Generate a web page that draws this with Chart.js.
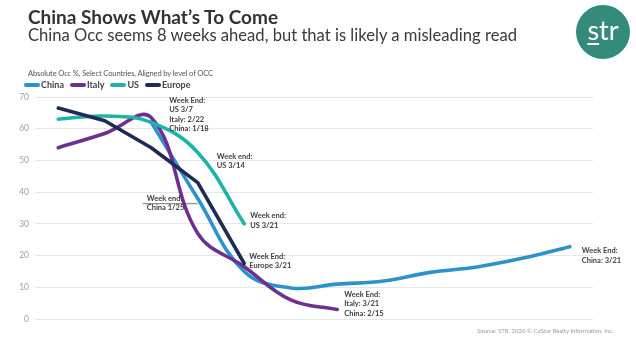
<!DOCTYPE html>
<html>
<head>
<meta charset="utf-8">
<script src="https://cdn.jsdelivr.net/npm/chart.js@4/dist/chart.umd.min.js"></script>
<style>
  body { margin: 0; width: 636px; height: 344px; overflow: hidden; background: #fff; position: relative; font-family: Lato, "Open Sans", sans-serif; }
  #occChart { position: absolute; left: 0; top: 0; }
  .head { position: absolute; left: 28px; color: #333; white-space: nowrap; }
  #title { top: 5px; font-size: 19px; font-weight: 700; }
  #subtitle { top: 25px; font-size: 16.6px; color: #3a3a3a; }
  #caption { position: absolute; left: 28px; top: 68px; font-size: 7.6px; letter-spacing: -0.15px; color: #555; white-space: nowrap; }
  #legend { position: absolute; left: 24px; top: 79px; font-size: 9px; font-weight: 700; color: #444; white-space: nowrap; display: flex; }
  #legend span.item { display: flex; align-items: center; margin-right: 6px; }
  #legend span.sw { display: inline-block; width: 16px; height: 4px; border-radius: 2px; margin-right: 1px; }
  #logo { position: absolute; left: 576px; top: 5px; width: 54px; height: 54px; border-radius: 50%; background: #358b7b; color: #fff; font-size: 27px; text-align: center; line-height: 50px; }
  #logo u { text-decoration-thickness: 2px; text-underline-offset: 3px; }
  #source { position: absolute; left: 477px; top: 327px; font-size: 6px; color: #9a9a9a; white-space: nowrap; }
</style>
</head>
<body>
<canvas id="occChart" width="636" height="344"></canvas>
<div id="title" class="head">China Shows What’s To Come</div>
<div id="subtitle" class="head">China Occ seems 8 weeks ahead, but that is likely a misleading read</div>
<div id="logo"><u>s</u>tr</div>
<div id="caption">Absolute Occ %, Select Countries, Aligned by level of OCC</div>
<div id="legend"></div>
<div id="source">Source: STR. 2020 © CoStar Realty Information, Inc.</div>
<script>
// weeks, aligned by occupancy level (labels are China's week-ending dates)
const weeks = ["1/4", "1/11", "1/18", "1/25", "2/1", "2/8", "2/15", "2/22", "2/29", "3/7", "3/14", "3/21"];

const china = [null, null, 62, 38, 15, 9.8, 11, 12, 14.7, 16.4, 19.2, 22.8];
const italy = [54, 58.5, 63.5, 27, 16.5, 6, 3];
const us = [63, 64, 62, 52.5, 30];
const europe = [66.5, 62.5, 54, 43, 17.5];

const yTicks = [0, 10, 20, 30, 40, 50, 60, 70];

// text notes, anchored on a data point (week index, value) plus pixel nudge
const notes = [
  { at: [2, 62], dx: 18, dy: -22, lines: ["Week End:", "US 3/7", "Italy: 2/22", "China: 1/18"] },
  { at: [3, 52.5], dx: 19, dy: 4, lines: ["Week end:", "US 3/14"] },
  { at: [3, 38], dx: -51, dy: 0, lines: ["Week end:", "China 1/25"], rule: true },
  { at: [4, 30], dx: 6, dy: -8, lines: ["Week end:", "US 3/21"] },
  { at: [4, 17.5], dx: 5, dy: -7, lines: ["Week End:", "Europe 3/21"] },
  { at: [6, 3], dx: 7, dy: -15, lines: ["Week End:", "Italy: 3/21", "China: 2/15"] },
  { at: [11, 22.8], dx: 12, dy: 4, lines: ["Week End:", "China: 3/21"] }
];

const colors = { China: "#2b93c9", Italy: "#6e2f8f", US: "#1db3a6", Europe: "#1f2a56" };

const notesPlugin = {
  id: "notes",
  afterDatasetsDraw(chart) {
    const ctx = chart.ctx;
    const xs = chart.scales.x, ys = chart.scales.y;
    ctx.save();
    ctx.font = "700 7.5px Lato, sans-serif";
    ctx.fillStyle = "#404040";
    ctx.textBaseline = "middle";
    notes.forEach(function (n) {
      const px = xs.getPixelForValue(n.at[0]);
      const py = ys.getPixelForValue(n.at[1]);
      const tx = px + n.dx, ty = py + n.dy;
      n.lines.forEach(function (t, i) {
        ctx.fillText(t, tx, ty + i * 9.4);
      });
      if (n.rule) {
        ctx.strokeStyle = "#555";
        ctx.lineWidth = 0.8;
        ctx.beginPath();
        ctx.moveTo(tx - 4, ty + 5.2);
        ctx.lineTo(px, ty + 5.2);
        ctx.stroke();
      }
    });
    ctx.restore();
  }
};

function line(label, data, order, tension) {
  return {
    label: label,
    data: data,
    borderColor: colors[label],
    backgroundColor: colors[label],
    borderWidth: 3.6,
    pointRadius: 0,
    tension: tension,
    borderCapStyle: "round",
    borderJoinStyle: "round",
    order: order,
    spanGaps: false
  };
}

const datasets = [
  line("China", china, 3, 0.4),
  line("Italy", italy, 2, 0.4),
  line("US", us, 1, 0.4),
  line("Europe", europe, 0, 0)
];

// legend in html
const legendEl = document.getElementById("legend");
datasets.forEach(function (d) {
  const item = document.createElement("span");
  item.className = "item";
  item.innerHTML = '<span class="sw" style="background:' + d.borderColor + '"></span>' + d.label;
  legendEl.appendChild(item);
});

new Chart(document.getElementById("occChart").getContext("2d"), {
  type: "line",
  data: { labels: weeks, datasets: datasets },
  plugins: [notesPlugin],
  options: {
    responsive: false,
    animation: false,
    layout: { padding: { left: 0, top: 97, right: 43, bottom: 25 } },
    plugins: { legend: { display: false }, tooltip: { enabled: false } },
    scales: {
      x: { display: false, offset: true },
      y: {
        min: 0,
        max: 70,
        afterFit: function (scale) { scale.width = 35; },
        afterBuildTicks: function (scale) { scale.ticks = yTicks.map(function (v) { return { value: v }; }); },
        ticks: { color: "#a0a0a0", font: { family: "Lato", size: 8.5 }, padding: 6 },
        grid: { color: "#e6e6e6", drawTicks: false },
        border: { display: false }
      }
    }
  }
});
</script>
</body>
</html>
